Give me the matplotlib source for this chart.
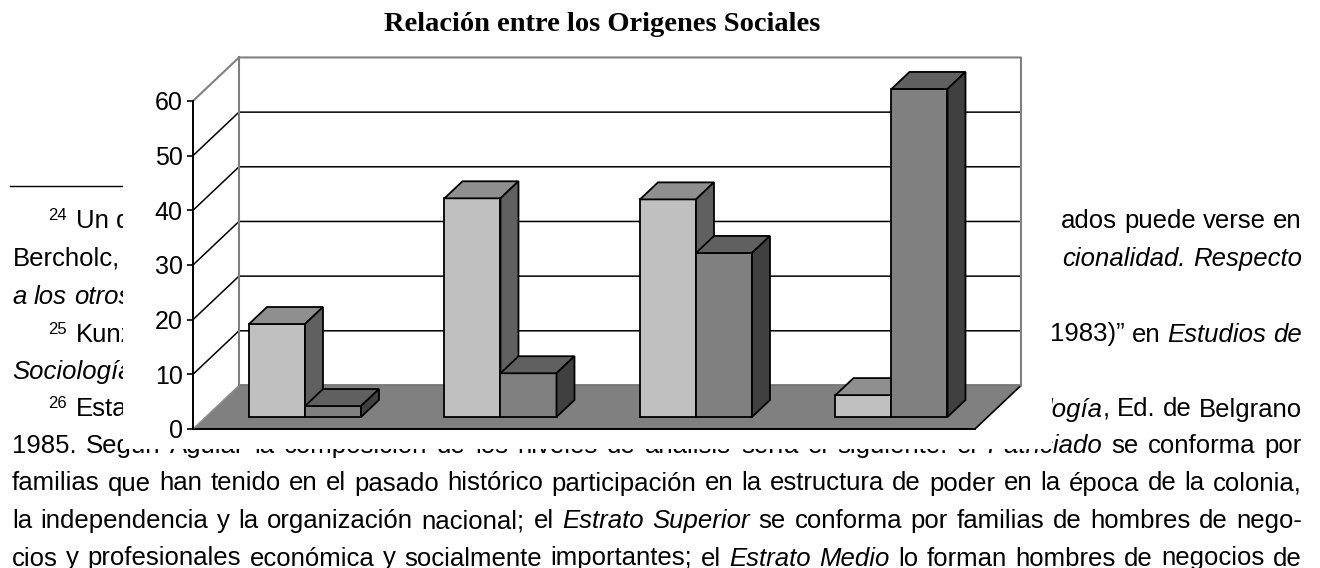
# -*- coding: utf-8 -*-
import matplotlib
matplotlib.use('Agg')
import matplotlib.pyplot as plt
from matplotlib.patches import Polygon
from matplotlib.lines import Line2D

# datos del grafico
serie_1 = [17, 40, 39.8, 4]    # barras claras
serie_2 = [2, 8, 30, 60]       # barras oscuras
yticks = [0, 10, 20, 30, 40, 50, 60]
titulo = 'Relación entre los Origenes Sociales'

# texto del documento que queda detras del grafico (baseline en px, palabras)
n, i = 'normal', 'italic'
izq = [
    (228, 76, [('Un', n), ('de', n)]),
    (266, 12.6, [('Bercholc,', n)]),
    (304, 12, [('a', i), ('los', i), ('otros', i)]),
    (341.5, 76, [('Kunz', n)]),
    (379, 12, [('Sociología', i)]),
    (416.5, 76, [('Esta', n)]),
]
notas = [(228, '24'), (341.5, '25'), (416.5, '26')]
der = [
    (228, [('ados', n), ('puede', n), ('verse', n), ('en', n)]),
    (266, [('cionalidad.', i), ('Respecto', i)]),
    (341.5, [('1983)”', n), ('en', n), ('Estudios', i), ('de', i)]),
    (416.5, [[('logía', i), (',', n)], ('Ed.', n), ('de', n), ('Belgrano', n)]),
]
completas = [
    (453, '1985. Según Aguiar la composición de los niveles de análisis sería el siguiente: el *Patriciado* se conforma por'),
    (490.5, 'familias que han tenido en el pasado histórico participación en la estructura de poder en la época de la colonia,'),
    (528, 'la independencia y la organización nacional; el *Estrato* *Superior* se conforma por familias de hombres de nego-'),
    (565.5, 'cios y profesionales económica y socialmente importantes; el *Estrato* *Medio* lo forman hombres de negocios de'),
]

W, H = 1320, 568
FS = 18.5
fig = plt.figure(figsize=(13.2, 5.68), dpi=100)
rend = fig.canvas.get_renderer()


def linea(palabras, y, x0=None, x1=None):
    items = []
    for w in palabras:
        partes = w if isinstance(w, list) else [w]
        arts = []
        ancho = 0
        for txt, st in partes:
            t = fig.text(0, 0, txt, fontsize=FS, style=st, family='Liberation Sans',
                         va='baseline', zorder=0)
            wd = t.get_window_extent(rend).width
            arts.append((t, wd))
            ancho += wd
        items.append((arts, ancho))
    total = sum(a for _, a in items)
    if x0 is not None and x1 is not None and len(items) > 1:
        gap = (x1 - x0 - total) / (len(items) - 1)
    else:
        gap = 0.278 * FS * 100 / 72
    if x0 is None:
        x0 = x1 - total - gap * (len(items) - 1)
    x = x0
    for arts, ancho in items:
        for t, wd in arts:
            t.set_position((x / W, 1 - y / H))
            x += wd
        x += gap


for y, x0, pals in izq:
    linea(pals, y, x0=x0)
for y, pals in der:
    linea(pals, y, x1=1302)
for y, txt in completas:
    pals = [(p.strip('*'), i if p.startswith('*') else n) for p in txt.split()]
    linea(pals, y, x0=12, x1=1302)
for y, s in notas:
    fig.text(48 / W, 1 - (y - 8) / H, s, fontsize=12, family='Liberation Sans', zorder=0)
fig.add_artist(Line2D([10 / W, 130 / W], [1 - 185.5 / H] * 2, color='black', lw=1, zorder=0))

# grafico (pseudo 3D)
ax = fig.add_axes([123 / W, 1 - 449 / H, (1052 - 123) / W, 449 / H], zorder=1)
ax.set_facecolor('white')
ax.set_xlim(-0.358, 4.394)
ax.set_ylim(-3.66, 78.47)
for s in ['top', 'right', 'bottom']:
    ax.spines[s].set_visible(False)
ax.spines['left'].set_position(('data', 0))
ax.spines['left'].set_bounds(0, 60)
ax.spines['left'].set_linewidth(1.4)
ax.set_xticks([])
ax.set_yticks(yticks)
ax.tick_params(axis='y', length=4.5, width=1.2, pad=3, labelsize=18)
for lab in ax.get_yticklabels():
    lab.set_family('Liberation Sans')

ncat = len(serie_1)
DX, DY = 0.2353, 7.96
d0, d1 = 0.276, 0.667
off, bw = 0.2215, 0.2865


def P(x, v, d):
    return (x + d * DX, v + d * DY)


# suelo
ax.add_patch(Polygon([P(0, 0, 0), P(ncat, 0, 0), P(ncat, 0, 1), P(0, 0, 1)],
                     closed=True, facecolor='#808080', edgecolor='none', zorder=1))
ax.plot(*zip(P(0, 0, 0), P(ncat, 0, 0)), color='black', lw=1.4, zorder=2)
ax.plot(*zip(P(ncat, 0, 0), P(ncat, 0, 1)), color='black', lw=1.2, zorder=2)
ax.plot(*zip(P(0, 0, 0), P(0, 0, 1)), color='#909090', lw=1.0, zorder=2)
ax.plot(*zip(P(0, 0, 1), P(ncat, 0, 1)), color='#6a6a6a', lw=1.2, zorder=2)

# lineas de division
for v in yticks[1:-1]:
    ax.plot(*zip(P(0, v, 0), P(0, v, 1), P(ncat, v, 1)), color='black', lw=1.1, zorder=2)
top = yticks[-1]
ax.plot(*zip(P(0, top, 0), P(0, top, 1), P(ncat, top, 1), P(ncat, 0, 1)),
        color='#808080', lw=1.5, zorder=2)
ax.plot(*zip(P(0, 0, 1), P(0, top, 1)), color='#808080', lw=1.5, zorder=2)

# barras
colores = [('#c0c0c0', '#8f8f8f', '#606060'), ('#808080', '#606060', '#404040')]
z = 3
for c in range(ncat):
    for j, serie in enumerate([serie_1, serie_2]):
        h = serie[c]
        x0 = c + off + j * bw
        x1 = x0 + bw
        fr, tp, sd = colores[j]
        caras = [
            ([P(x0, 0, d0), P(x1, 0, d0), P(x1, h, d0), P(x0, h, d0)], fr),
            ([P(x0, h, d0), P(x1, h, d0), P(x1, h, d1), P(x0, h, d1)], tp),
            ([P(x1, 0, d0), P(x1, 0, d1), P(x1, h, d1), P(x1, h, d0)], sd),
        ]
        for pts, col in caras:
            ax.add_patch(Polygon(pts, closed=True, facecolor=col, edgecolor='black',
                                 lw=1.3, joinstyle='miter', zorder=z))
        z += 0.01

fig.text(602.5 / W, 1 - 31 / H, titulo, ha='center', va='baseline', fontsize=20.5,
         fontweight='bold', family='Liberation Serif', zorder=3)

fig.savefig('out.png', dpi=100)
